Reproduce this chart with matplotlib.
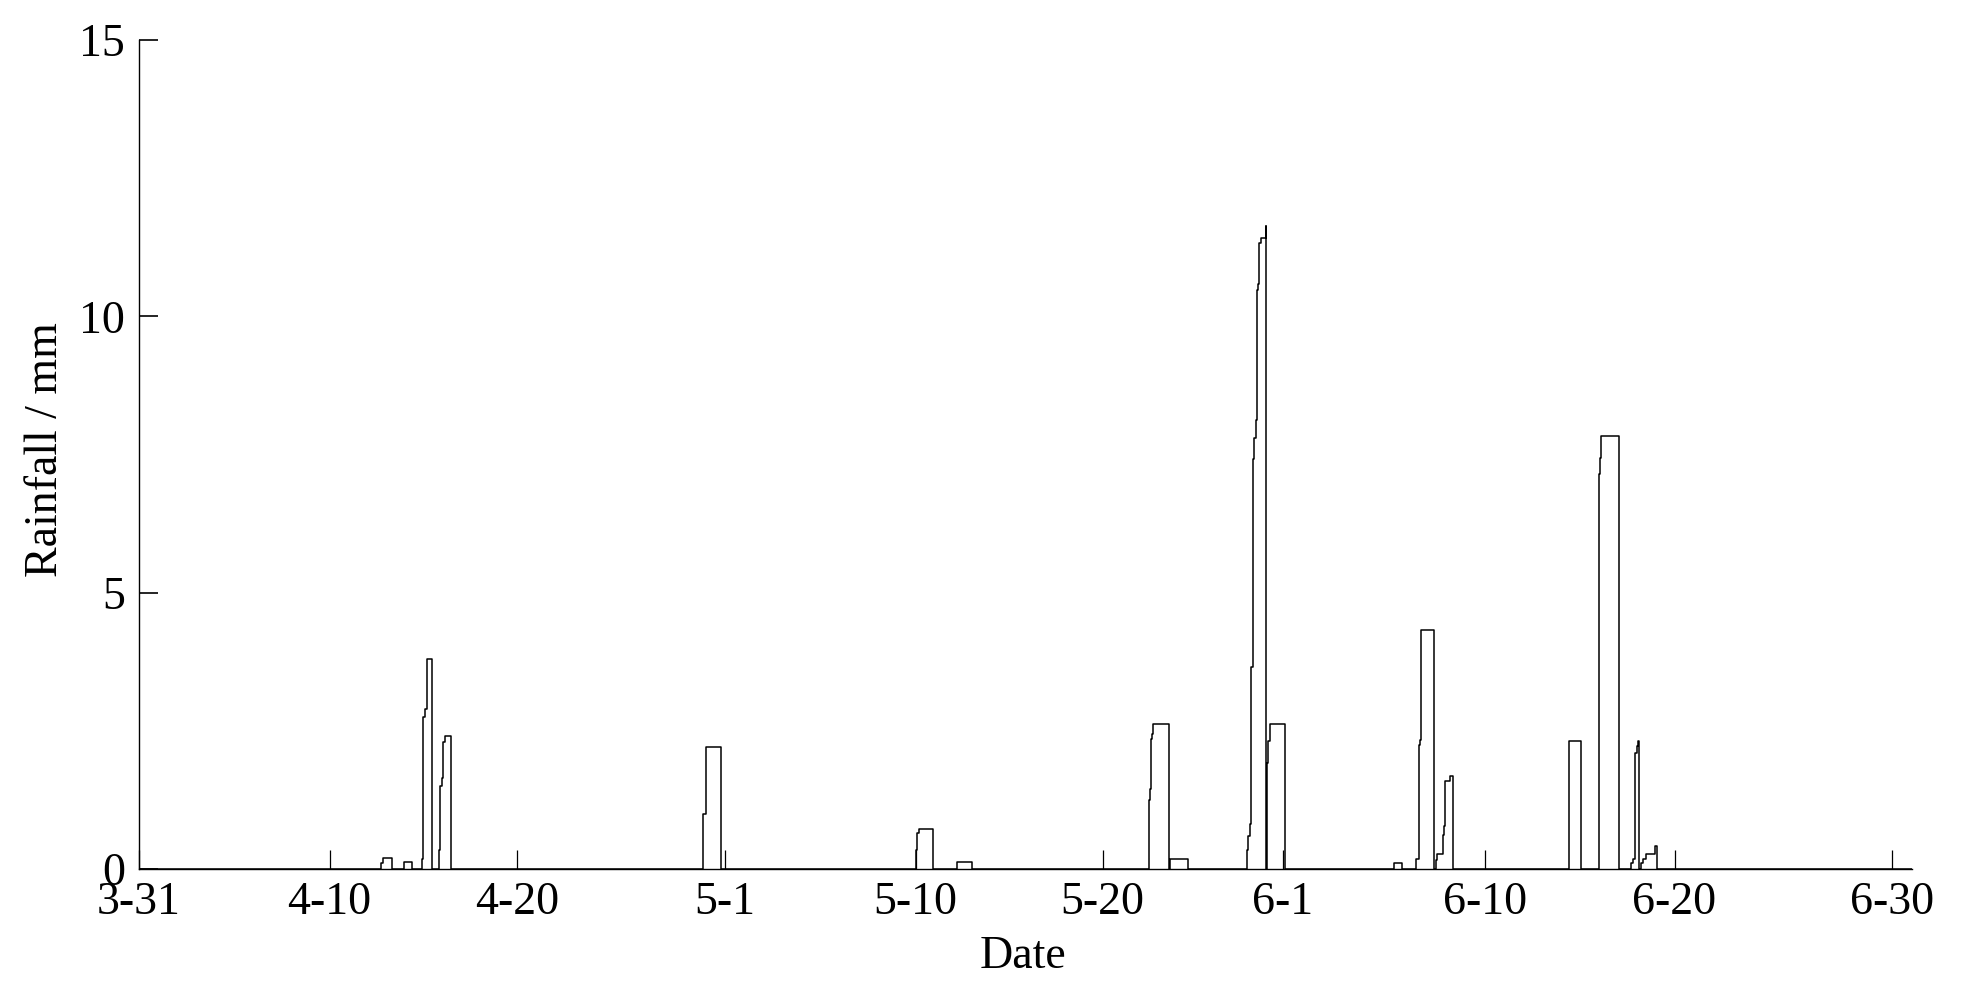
import matplotlib
matplotlib.use("Agg")
import matplotlib.pyplot as plt

plt.rcParams['font.family'] = ['Liberation Serif', 'DejaVu Serif']

# Time axis: days after 3-31 (fractional)
t_days = [0.0,
          12.72, 12.82, 13.33,
          13.96, 14.38,
          14.88, 14.96, 15.05, 15.14, 15.41,
          15.77, 15.84, 15.93, 16.02, 16.11, 16.42,
          29.70, 29.84, 30.63,
          40.89, 40.95, 41.03, 41.81,
          43.07, 43.86,
          53.17, 53.23, 53.28, 53.33, 53.38, 54.23, 54.25, 55.23,
          58.30, 58.34, 58.38, 58.47, 58.53, 58.62, 58.70, 58.79, 58.83,
          58.89, 58.96, 59.04, 59.30, 59.32,
          59.35, 59.44, 59.53, 60.32,
          66.07, 66.49,
          67.23, 67.38, 67.42, 67.49, 68.16,
          68.26, 68.33, 68.62, 68.68, 68.75, 69.00, 69.17,
          75.28, 75.88,
          76.86, 76.89, 76.95, 77.88,
          78.51, 78.62, 78.76, 78.84, 78.90, 78.97,
          79.04, 79.14, 79.32, 79.79, 79.91,
          93.32]
# Rainfall (mm) held from each time to the next
rain_mm = [0.0,
           0.10, 0.20, 0.0,
           0.12, 0.0,
           0.18, 2.75, 2.90, 3.80, 0.0,
           0.35, 1.50, 1.65, 2.30, 2.40, 0.0,
           1.00, 2.20, 0.0,
           0.35, 0.65, 0.72, 0.0,
           0.13, 0.0,
           1.25, 1.45, 2.35, 2.45, 2.62, 0.0, 0.19, 0.0,
           0.12, 0.35, 0.59, 0.82, 3.65, 7.41, 7.80, 8.12, 10.47,
           10.59, 11.33, 11.41, 11.63, 0.0,
           1.92, 2.32, 2.63, 0.0,
           0.11, 0.0,
           0.19, 2.25, 2.34, 4.32, 0.0,
           0.16, 0.27, 0.62, 0.77, 1.60, 1.69, 0.0,
           2.31, 0.0,
           7.14, 7.44, 7.84, 0.0,
           0.11, 0.19, 2.10, 2.23, 2.32, 0.0,
           0.11, 0.19, 0.28, 0.42, 0.0,
           0.0]

x_tick_pos = [0.0, 10.03, 19.88, 30.84, 40.88, 50.72, 60.21, 70.84, 80.82, 92.25]
x_tick_labels = ['3-31', '4-10', '4-20', '5-1', '5-10', '5-20', '6-1', '6-10', '6-20', '6-30']
y_ticks = [0, 5, 10, 15]

fig = plt.figure(figsize=(19.61, 9.93), dpi=100)
ax = fig.add_axes([0.07088, 0.12487, 0.90413, 0.83484])

ax.plot(t_days, rain_mm, drawstyle='steps-post', color='black', lw=1.1)

ax.set_xlim(0, 93.32)
ax.set_ylim(0, 15)
ax.set_xticks(x_tick_pos)
ax.set_xticklabels(x_tick_labels)
ax.set_yticks(y_ticks)
ax.set_yticklabels([str(v) for v in y_ticks])

for s in ['top', 'right']:
    ax.spines[s].set_visible(False)
for s in ['left', 'bottom']:
    ax.spines[s].set_linewidth(1.0)

ax.tick_params(axis='x', direction='in', length=13.7, width=0.9, labelsize=33, pad=9)
ax.tick_params(axis='y', direction='in', length=13.7, width=1.2, labelsize=33, pad=10)

fig.text(1023 / 1961, 1 - 957 / 993, 'Date', ha='center', va='center', fontsize=33)
fig.text(46 / 1961, 1 - 450 / 993, 'Rainfall / mm', ha='center', va='center',
         rotation=90, fontsize=33)

fig.savefig('out.png', dpi=100)
